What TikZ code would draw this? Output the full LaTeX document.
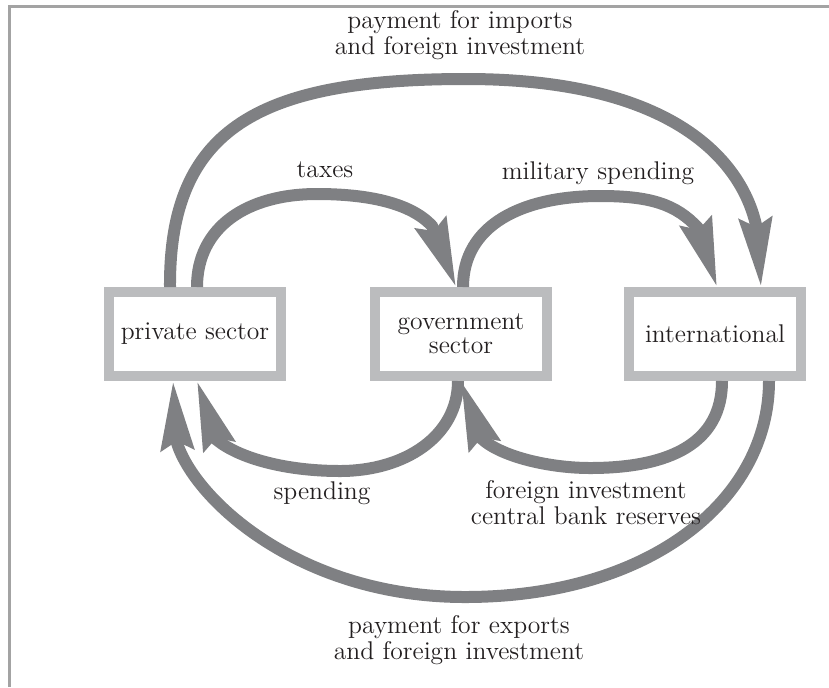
\documentclass[tikz,border=0pt]{standalone}
\usetikzlibrary{positioning,calc,arrows.meta}

\definecolor{flowgray}{HTML}{7F8083}
\definecolor{boxgray}{HTML}{BBBCBE}
\definecolor{framegray}{HTML}{A3A3A3}
\definecolor{inkdark}{HTML}{231F20}

\begin{document}
\begin{tikzpicture}[x=0.5pt,y=-0.5pt,
	sector/.style={rectangle, draw=boxgray, fill=white, line width=5pt, outer sep=2.5pt, inner sep=0pt,
		minimum width=86pt, minimum height=42pt, align=center, text=inkdark, font=\fontsize{12.8}{12}\selectfont},
	flow/.style={flowgray, line width=6pt, -{Stealth[length=34pt,width=16pt,inset=4pt]}},
	lbl/.style={align=center, text=inkdark, inner sep=0pt, font=\fontsize{12.8}{13}\selectfont}
	]
	\useasboundingbox (0,0) rectangle (829,687);
	\draw[framegray, line width=1.5pt] (9,687) -- (9,6) -- (829,6);
	
	\node[sector] (priv) at (195,334) {private sector};
	\node[sector] (gov) [right=42pt of priv] {government\\sector};
	\node[sector] (intl) [right=36pt of gov] {international};
	
	% upper flows
	\draw[flow] ($(priv.north)+(-25,0)$) .. controls +(-1,-160) and +(-205,0) .. (466,79)
		.. controls +(210,0) and +(-14,-62) .. (756,225) -- ($(intl.north)+(46,0)$);
	\draw[flow] ($(priv.north)+(2,0)$) .. controls +(0,-60) and +(-70,0) .. (317,194)
		.. controls +(48,0) and +(-22,-24) .. (432,226) -- ($(gov.north)+(-5,0)$);
	\draw[flow] ($(gov.north)+(2,0)$) .. controls +(0,-62) and +(-78,0) .. (600,196)
		.. controls +(50,0) and +(-22,-24) .. (698,228) -- ($(intl.north)+(2,0)$);
	
	% lower flows
	\draw[flow] ($(gov.south)+(-3,0)$) .. controls +(0,55) and +(65,0) .. (340,471)
		.. controls +(-55,0) and +(22,18) .. (217,440) -- ($(priv.south)+(2,0)$);
	\draw[flow] ($(intl.south)+(7,0)$) .. controls +(0,62) and +(80,0) .. (590,468)
		.. controls +(-40,0) and +(20,18) .. (482,439) -- (gov.south);
	\draw[flow] ($(intl.south)+(54,0)$) .. controls +(0,119) and +(185,0) .. (465,597)
		.. controls +(-165,0) and +(18,57) .. (177,443) -- ($(priv.south)+(-22,0)$);
	
	\node[lbl] (importlbl) at (460,35) {payment for imports\\and foreign investment};
	\node[lbl] (taxlbl) at (325,170) {taxes};
	\node[lbl] (militarylbl) at (598,173) {military spending};
	\node[lbl] (spendlbl) at (322,493) {spending};
	\node[lbl] (reservelbl) at (586,503) {foreign investment\\central bank reserves};
	\node[lbl] (exportlbl) at (459,640) {payment for exports\\and foreign investment};
\end{tikzpicture}
\end{document}
